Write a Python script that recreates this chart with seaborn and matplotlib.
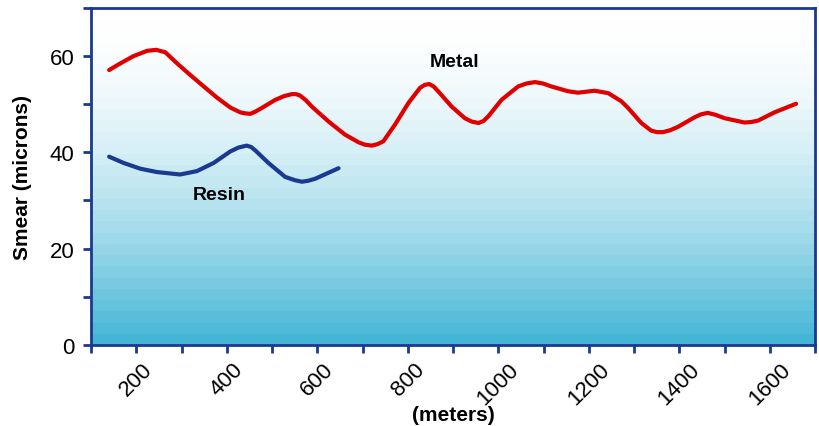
import numpy as np
import pandas as pd
import matplotlib
matplotlib.use('Agg')
import matplotlib.pyplot as plt
from matplotlib.colors import LinearSegmentedColormap
from matplotlib.ticker import MultipleLocator
import seaborn as sns

# Values
metal_m = [140, 165, 194, 224, 244, 264, 290, 319, 349, 378, 408, 430, 441, 452,
           464, 477, 507, 527, 544, 553, 562, 575, 588, 625, 661, 691, 705, 720,
           733, 746, 772, 801, 827, 837, 847, 857, 867, 897, 926, 941, 956, 967,
           978, 1007, 1044, 1062, 1081, 1099, 1117, 1154, 1176, 1213, 1243, 1272,
           1287, 1316, 1338, 1351, 1364, 1380, 1397, 1434, 1448, 1463, 1480, 1500,
           1544, 1559, 1574, 1610, 1658]
metal_smear = [57.1, 58.5, 60.0, 61.1, 61.3, 60.8, 58.5, 56.1, 53.7, 51.4, 49.3,
               48.3, 48.1, 48.0, 48.5, 49.2, 50.9, 51.7, 52.1, 52.1, 51.8, 50.8,
               49.5, 46.4, 43.7, 42.1, 41.6, 41.4, 41.7, 42.3, 45.8, 50.2, 53.4,
               54.0, 54.2, 53.7, 52.7, 49.5, 47.1, 46.4, 46.1, 46.5, 47.5, 50.9,
               53.7, 54.3, 54.6, 54.3, 53.7, 52.7, 52.4, 52.8, 52.3, 50.6, 49.2,
               46.1, 44.5, 44.2, 44.2, 44.6, 45.3, 47.3, 47.9, 48.2, 47.8, 47.1,
               46.2, 46.3, 46.6, 48.3, 50.1]

resin_m = [140, 172, 209, 246, 297, 334, 371, 408, 426, 444, 454, 463, 492, 529,
           551, 566, 580, 595, 647]
resin_smear = [39.1, 37.8, 36.6, 35.9, 35.4, 36.1, 37.8, 40.2, 41.0, 41.4, 41.1,
               40.4, 37.8, 34.9, 34.2, 33.9, 34.1, 34.5, 36.7]

x_ticks = [200, 400, 600, 800, 1000, 1200, 1400, 1600]
y_ticks = [0, 20, 40, 60]

metal_df = pd.DataFrame({'meters': metal_m, 'smear': metal_smear})
resin_df = pd.DataFrame({'meters': resin_m, 'smear': resin_smear})

navy = '#1a3a8f'
red = '#e00000'

sns.set_style('ticks')
plt.rcParams['font.family'] = ['Liberation Sans', 'DejaVu Sans']
plt.rcParams['text.color'] = 'black'
plt.rcParams['axes.labelcolor'] = 'black'

fig, ax = plt.subplots(figsize=(8.2, 4.27), dpi=100)
fig.subplots_adjust(left=0.111, right=0.994, bottom=0.19, top=0.979)

# Banded background gradient, white at top to teal at bottom
bands = 30
t = (np.arange(bands) + 0.5) / bands
grad = (t ** 1.8)[:, None]
cmap = LinearSegmentedColormap.from_list('bg', ['#ffffff', '#3eb4d4'])
ax.imshow(grad, cmap=cmap, vmin=0, vmax=1, aspect='auto', origin='upper',
          extent=[0, 1, 0, 1], transform=ax.transAxes, zorder=0,
          interpolation='nearest')

sns.lineplot(data=metal_df, x='meters', y='smear', sort=False, color=red,
             linewidth=3, ax=ax, zorder=3)
sns.lineplot(data=resin_df, x='meters', y='smear', sort=False, color=navy,
             linewidth=3, ax=ax, zorder=3)
for line in ax.lines:
    line.set_solid_joinstyle('round')
    line.set_solid_capstyle('round')

ax.text(903, 58.8, 'Metal', fontsize=14, fontweight='bold', ha='center', va='center')
ax.text(383, 31.3, 'Resin', fontsize=14, fontweight='bold', ha='center', va='center')

ax.set_xlim(100, 1700)
ax.set_ylim(0, 70)
ax.set_xticks(x_ticks)
ax.set_yticks(y_ticks)
ax.xaxis.set_minor_locator(MultipleLocator(100))
ax.yaxis.set_minor_locator(MultipleLocator(10))

for s in ax.spines.values():
    s.set_visible(True)
    s.set_color(navy)
    s.set_linewidth(2)

ax.tick_params(which='both', direction='out', length=6, width=2, color=navy)
ax.tick_params(axis='both', which='major', labelsize=16, labelcolor='black')
ax.tick_params(axis='y', pad=6)
ax.tick_params(axis='x', pad=4)
plt.setp(ax.get_xticklabels(), rotation=45, ha='center')

ax.set_xlabel('(meters)', fontsize=15, fontweight='bold')
ax.set_ylabel('Smear (microns)', fontsize=15, fontweight='bold')
ax.xaxis.set_label_coords(0.5, -0.178)
ax.yaxis.set_label_coords(-0.082, 0.5)

fig.savefig('out.png', dpi=100)
